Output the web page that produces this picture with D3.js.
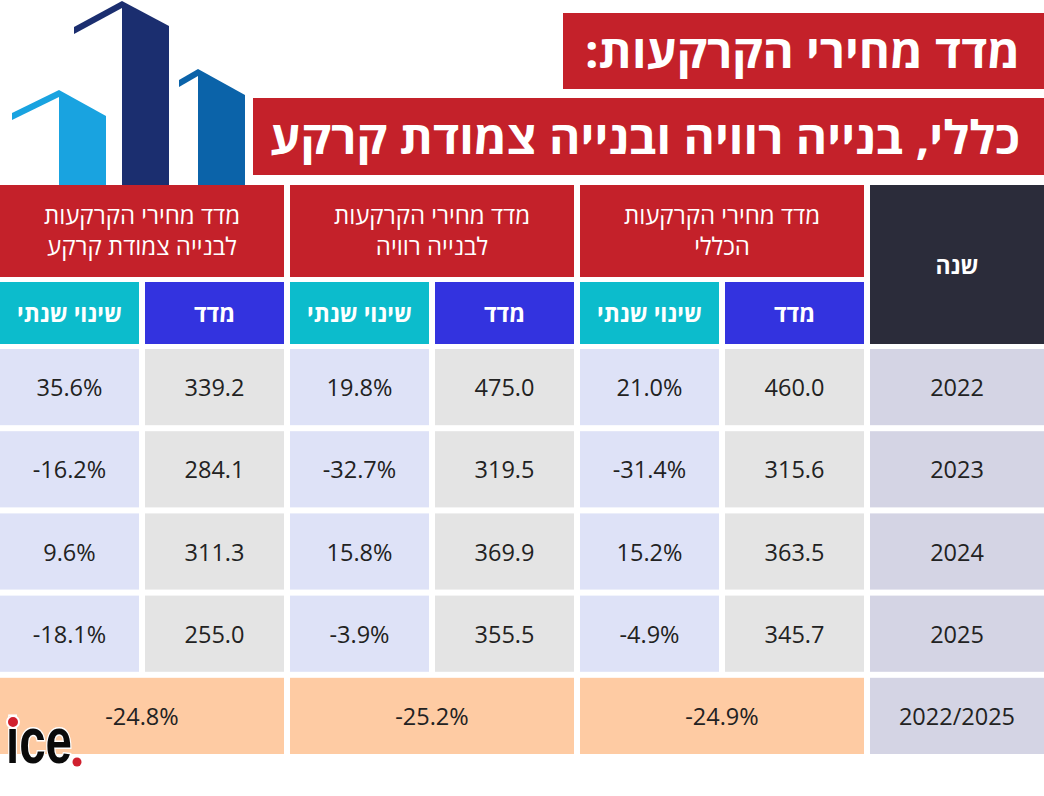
<!DOCTYPE html>
<html><head><meta charset="utf-8">
<script src="https://cdn.jsdelivr.net/npm/d3@7/dist/d3.min.js"></script>
<style>html,body{margin:0;padding:0;background:#fff;}svg{display:block;}</style>
</head><body>
<svg id="c" width="1044" height="796"></svg>
<script>
// ---- data ----
const title1 = "מדד מחירי הקרקעות:";
const title2 = "כללי, בנייה רוויה ובנייה צמודת קרקע";
const years = ["2022", "2023", "2024", "2025"];
const totalLabel = "2022/2025";
const yearHeader = "שנה";
const groupTitles = [
  ["מדד מחירי הקרקעות", "לבנייה צמודת קרקע"],
  ["מדד מחירי הקרקעות", "לבנייה רוויה"],
  ["מדד מחירי הקרקעות", "הכללי"]
];
const subIndex = "מדד";
const subChange = "שינוי שנתי";
const groundIndex = [339.2, 284.1, 311.3, 255.0];
const groundChange = [35.6, -16.2, 9.6, -18.1];
const rentalIndex = [475.0, 319.5, 369.9, 355.5];
const rentalChange = [19.8, -32.7, 15.8, -3.9];
const generalIndex = [460.0, 315.6, 363.5, 345.7];
const generalChange = [21.0, -31.4, 15.2, -4.9];
const totals = [-24.8, -25.2, -24.9];

// ---- layout ----
const svg = d3.select("#c");
const W = 1044;
const C = {red:"#c4212a", dark:"#2b2c3a", blue:"#3333df", cyan:"#0cbccc",
  lav:"#dee2f7", gray:"#e4e4e4", yearCell:"#d4d4e4", peach:"#fecba3"};
const F = "'Open Sans', 'DejaVu Sans', sans-serif";
const NUM = 23.5;

const colKeys = ["gC","gI","rC","rI","tC","tI"];
const series = {gC:groundChange, gI:groundIndex, rC:rentalChange, rI:rentalIndex, tC:generalChange, tI:generalIndex};
const x = d3.scaleBand().domain(colKeys).range([0, 864]).paddingInner(6/145);
const bw = x.bandwidth();
const gap = x.step() - bw;
const yearX0 = x("tI") + bw + gap, yearX1 = W;
const rowKeys = years.concat(["total"]);
const y = d3.scaleBand().domain(rowKeys).range([349, 754]).paddingInner(6/82);
const bh = y.bandwidth();

// ---- logo buildings ----
const bld = [
  {c:"#19a3e0", ex:12, ey:113, px:59, py:90, rx:106, ry:116},
  {c:"#1b2e6f", ex:74, ey:27, px:122, py:1, rx:169, ry:26},
  {c:"#0b63a9", ex:179, ey:80, px:198, py:69, rx:245, ry:95}
];
const lg = svg.append("g");
bld.forEach(b => {
  lg.append("polygon").attr("fill", b.c)
    .attr("points", [[b.px,b.py],[b.rx,b.ry],[b.rx,185],[b.px,185]].join(" "));
  lg.append("polygon").attr("fill", b.c)
    .attr("points", [[b.ex,b.ey],[b.px,b.py],[b.px,b.py+7],[b.ex,b.ey+7]].join(" "));
});

// ---- title boxes ----
svg.append("rect").attr("x",563).attr("y",13).attr("width",W-563).attr("height",76).attr("fill",C.red);
svg.append("rect").attr("x",253).attr("y",98).attr("width",W-253).attr("height",77).attr("fill",C.red);
svg.append("text").attr("x",(585+1020)/2).attr("y",68).attr("text-anchor","middle").attr("direction","rtl")
  .attr("font-family",F).attr("font-weight",700).attr("font-size",46).attr("fill","#fff")
  .attr("textLength",435).attr("lengthAdjust","spacingAndGlyphs").text(title1);
svg.append("text").attr("x",(270+1020)/2).attr("y",154).attr("text-anchor","middle").attr("direction","rtl")
  .attr("font-family",F).attr("font-weight",700).attr("font-size",46).attr("fill","#fff")
  .attr("textLength",750).attr("lengthAdjust","spacingAndGlyphs").text(title2);

// ---- headers ----
const hTop = 185, hMid = 277, sTop = 282, sBot = 344;
svg.append("rect").attr("x",yearX0).attr("y",hTop).attr("width",yearX1-yearX0).attr("height",sBot-hTop).attr("fill",C.dark);
svg.append("text").attr("x",(yearX0+yearX1)/2).attr("y",(hTop+sBot)/2+9).attr("text-anchor","middle").attr("direction","rtl")
  .attr("font-family",F).attr("font-weight",700).attr("font-size",23).attr("fill","#fff").text(yearHeader);
const groupCols = [["gC","gI"],["rC","rI"],["tC","tI"]];
groupCols.forEach((gc, i) => {
  const x0 = x(gc[0]), x1 = x(gc[1]) + bw;
  svg.append("rect").attr("x",x0).attr("y",hTop).attr("width",x1-x0).attr("height",hMid-hTop).attr("fill",C.red);
  const t = svg.append("text").attr("text-anchor","middle").attr("direction","rtl")
    .attr("font-family",F).attr("font-weight",500).attr("font-size",24).attr("fill","#fff");
  t.append("tspan").attr("x",(x0+x1)/2).attr("y",224).text(groupTitles[i][0]);
  t.append("tspan").attr("x",(x0+x1)/2).attr("y",255).text(groupTitles[i][1]);
  [[gc[0], C.cyan, subChange],[gc[1], C.blue, subIndex]].forEach(([k, col, lab]) => {
    svg.append("rect").attr("x",x(k)).attr("y",sTop).attr("width",bw).attr("height",sBot-sTop).attr("fill",col);
    svg.append("text").attr("x",x(k)+bw/2).attr("y",(sTop+sBot)/2+9).attr("text-anchor","middle").attr("direction","rtl")
      .attr("font-family",F).attr("font-weight",700).attr("font-size",23).attr("fill","#fff").text(lab);
  });
});

// ---- body ----
const fmtI = v => v.toFixed(1);
const fmtP = v => v.toFixed(1) + "%";
years.forEach((yr, r) => {
  const yy = y(yr);
  svg.append("rect").attr("x",yearX0).attr("y",yy).attr("width",yearX1-yearX0).attr("height",bh).attr("fill",C.yearCell);
  svg.append("text").attr("x",(yearX0+yearX1)/2).attr("y",yy+bh/2+9).attr("text-anchor","middle")
    .attr("font-family",F).attr("font-size",NUM).attr("fill","#222").text(yr);
  colKeys.forEach(k => {
    const isChange = k.endsWith("C");
    svg.append("rect").attr("x",x(k)).attr("y",yy).attr("width",bw).attr("height",bh)
      .attr("fill", isChange ? C.lav : C.gray);
    svg.append("text").attr("x",x(k)+bw/2).attr("y",yy+bh/2+9).attr("text-anchor","middle")
      .attr("font-family",F).attr("font-size",NUM).attr("fill","#222")
      .text(isChange ? fmtP(series[k][r]) : fmtI(series[k][r]));
  });
});
const ty = y("total");
svg.append("rect").attr("x",yearX0).attr("y",ty).attr("width",yearX1-yearX0).attr("height",bh).attr("fill",C.yearCell);
svg.append("text").attr("x",(yearX0+yearX1)/2).attr("y",ty+bh/2+9).attr("text-anchor","middle")
  .attr("font-family",F).attr("font-size",NUM).attr("fill","#222").text(totalLabel);
groupCols.forEach((gc, i) => {
  const x0 = x(gc[0]), x1 = x(gc[1]) + bw;
  svg.append("rect").attr("x",x0).attr("y",ty).attr("width",x1-x0).attr("height",bh).attr("fill",C.peach);
  svg.append("text").attr("x",(x0+x1)/2).attr("y",ty+bh/2+9).attr("text-anchor","middle")
    .attr("font-family",F).attr("font-size",NUM).attr("fill","#222").text(fmtP(totals[i]));
});

// ---- ice logo ----
const ice = svg.append("g");
ice.append("text").attr("x",6).attr("y",763).attr("font-family","'Liberation Sans Narrow','Liberation Sans',sans-serif")
  .attr("font-weight",700).attr("font-size",64).attr("fill","#0a0a0a")
  .attr("stroke","#fff").attr("stroke-width",3).attr("paint-order","stroke")
  .attr("textLength",66).attr("lengthAdjust","spacingAndGlyphs").text("ice");
ice.append("circle").attr("cx",13).attr("cy",722).attr("r",6).attr("fill","#d0202e").attr("stroke","#fff").attr("stroke-width",2);
ice.append("circle").attr("cx",77).attr("cy",762).attr("r",4.5).attr("fill","#d0202e");
</script>
</body></html>
